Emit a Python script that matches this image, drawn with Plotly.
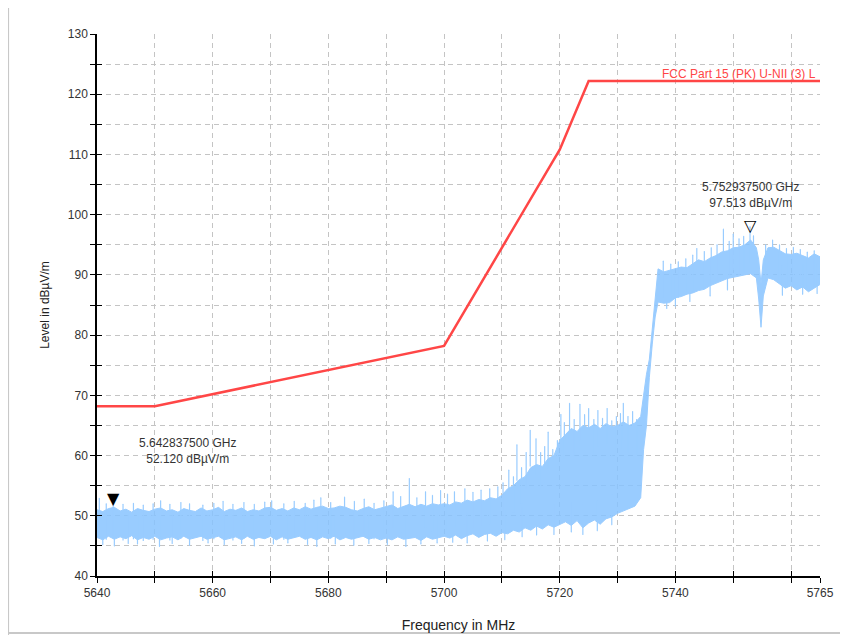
import plotly.graph_objects as go

# --- données lues sur la capture ---
# limite FCC Part 15 (PK) U-NII 3
limit_freq = [5640, 5650, 5700, 5720, 5725, 5765]
limit_level = [68.2, 68.2, 78.2, 110.8, 122.2, 122.2]

# spectre mesuré : enveloppes du coeur dense (MHz, dBµV/m)
spec_freq = [
    5640, 5641, 5642, 5643, 5644, 5645, 5646, 5647, 5648, 5649,
    5650, 5651, 5652, 5653, 5654, 5655, 5656, 5657, 5658, 5659,
    5660, 5661, 5662, 5663, 5664, 5665, 5666, 5667, 5668, 5669,
    5670, 5671, 5672, 5673, 5674, 5675, 5676, 5677, 5678, 5679,
    5680, 5681, 5682, 5683, 5684, 5685, 5686, 5687, 5688, 5689,
    5690, 5691, 5692, 5693, 5694, 5695, 5696, 5697, 5698, 5699,
    5700, 5701, 5702, 5703, 5704, 5705, 5706, 5707, 5708, 5709,
    5710, 5711, 5712, 5713, 5714, 5715, 5716, 5717, 5718, 5719,
    5720, 5721, 5722, 5723, 5724, 5725, 5726, 5727, 5728, 5729,
    5730, 5731, 5732, 5733,
    5734, 5734.5, 5735, 5735.5, 5736, 5736.5, 5737,
    5738, 5739, 5740, 5741, 5742, 5743, 5744, 5745, 5746, 5747,
    5748, 5749, 5750, 5751, 5752, 5753, 5754, 5754.4, 5754.8, 5755.2,
    5756, 5757, 5758, 5759, 5760, 5761, 5762, 5763, 5764, 5765,
]
spec_upper = [
    51.0, 50.7, 51.2, 51.4, 50.8, 51.1, 50.6, 51.2, 50.9, 50.7,
    51.1, 51.3, 50.8, 51.0, 50.6, 51.2, 50.9, 50.7, 51.3, 50.8,
    51.0, 51.4, 50.7, 51.1, 50.9, 51.3, 50.7, 51.0, 50.8, 51.3,
    51.4, 50.9, 51.2, 50.8, 51.3, 51.0, 51.5, 51.1, 51.4, 51.6,
    51.2, 51.3, 51.6, 51.4, 51.0, 50.8, 51.2, 51.5, 51.0, 51.3,
    51.5, 51.8, 51.2, 51.6, 51.9, 51.5, 51.9, 51.6, 52.0, 51.8,
    52.0, 51.8, 52.3, 52.1, 52.6, 52.3, 52.7, 52.5, 53.0, 52.8,
    53.4, 54.5, 55.0, 56.0, 56.5, 58.0, 58.5, 58.2, 59.5, 60.0,
    62.5, 63.5, 64.5, 64.0, 65.0, 64.6, 65.2, 64.5, 65.3, 64.8,
    65.0, 65.6, 65.0, 65.4,
    66.5, 70.0, 73.5, 76.0, 81.0, 87.0, 91.0,
    90.5, 90.8, 91.0, 91.3, 91.2, 91.8, 92.5, 92.2, 92.8, 93.2,
    93.8, 94.0, 94.5, 94.6, 95.0, 95.8, 94.5, 92.5, 88.5, 92.5,
    94.5, 94.6, 94.0, 93.5, 93.4, 93.6, 93.2, 92.8, 93.5, 93.0,
]
spec_lower = [
    46.4, 46.0, 46.6, 46.1, 46.5, 46.2, 46.7, 46.0, 46.4, 46.1,
    46.6, 46.0, 46.3, 46.5, 46.0, 46.6, 46.1, 46.3, 46.6, 46.1,
    46.4, 46.6, 46.0, 46.2, 46.5, 46.0, 46.6, 46.1, 46.4, 46.2,
    46.6, 46.0, 46.5, 46.1, 46.3, 46.6, 46.1, 46.4, 46.0, 46.5,
    46.2, 46.6, 46.0, 46.4, 46.1, 46.3, 46.6, 46.1, 46.4, 46.0,
    46.3, 46.0, 46.5, 46.1, 46.2, 46.4, 45.9, 46.5, 46.1, 46.4,
    46.6, 46.3, 46.8, 46.2, 46.7, 47.0, 46.4, 46.9, 47.1, 46.6,
    47.2, 47.0, 47.6, 47.3, 48.0, 47.6, 48.3, 47.8, 48.5, 48.1,
    48.6, 49.0, 48.4, 49.2, 48.0, 48.8, 49.3, 48.6, 49.5, 49.8,
    50.4, 50.8, 51.2, 51.6,
    53.0, 61.0, 65.0, 73.0, 78.5, 83.0, 85.5,
    85.3, 85.4, 86.2, 86.4, 86.8, 87.0, 87.4, 87.6, 88.2, 88.6,
    89.0, 89.4, 89.6, 89.8, 90.0, 90.2, 89.5, 86.0, 81.3, 86.5,
    89.5, 89.2, 88.5, 87.8, 88.2, 87.5, 88.0, 87.2, 87.8, 88.4,
]

# pointes isolées au-dessus du coeur (fréquence, sommet)
spike_freq = [
    5640.4, 5641.6, 5642.8, 5644.5, 5646.3, 5648.0, 5649.7, 5651.0, 5652.6, 5654.5,
    5656.0, 5658.3, 5660.2, 5661.8, 5663.5, 5665.4, 5667.2, 5669.0, 5670.2, 5672.3,
    5674.1, 5676.0, 5677.5, 5678.7, 5680.4, 5682.8, 5684.5, 5686.2, 5687.9, 5689.6,
    5691.2, 5692.5, 5694.0, 5695.3, 5696.8, 5698.0, 5699.4, 5700.6, 5701.8, 5703.6,
    5705.0, 5706.4, 5707.9, 5709.3, 5710.2, 5711.2, 5712.0, 5712.6, 5713.4, 5714.2,
    5714.9, 5715.9, 5716.7, 5717.4, 5718.0, 5718.8, 5719.6, 5720.2, 5720.8, 5721.7,
    5722.5, 5723.5, 5724.3, 5725.0, 5725.9, 5726.6, 5727.4, 5728.2, 5729.0, 5729.8,
    5730.5, 5731.0, 5731.8, 5732.6, 5733.3,
    5737.9, 5739.2, 5740.5, 5741.8, 5743.0, 5743.7, 5745.0, 5746.2, 5747.2, 5748.3,
    5749.3, 5750.0, 5751.0, 5751.8, 5752.9, 5753.5, 5755.6, 5756.8, 5758.0, 5759.2,
    5760.4, 5761.6, 5762.8, 5764.0,
]
spike_top = [
    52.9, 52.0, 52.6, 51.9, 52.1, 51.8, 52.0, 52.5, 51.9, 52.2,
    52.0, 51.8, 52.1, 52.4, 51.9, 52.2, 51.9, 52.3, 52.5, 52.0,
    52.4, 52.1, 52.6, 53.0, 52.2, 53.1, 52.4, 52.8, 52.1, 52.5,
    54.0, 53.2, 56.2, 53.0, 54.0, 53.4, 54.2, 53.6, 54.0, 54.5,
    53.9, 54.3, 54.5, 54.8, 55.5, 57.6, 56.5, 61.8, 58.0, 60.5,
    64.2, 62.8, 60.5, 61.5, 63.9, 61.0, 62.5, 66.8, 65.5, 68.7,
    66.0, 68.5, 66.8, 67.8, 66.0, 67.5, 66.2, 67.8, 65.8, 66.5,
    67.0, 68.7, 66.5, 67.3, 66.0,
    92.3, 91.8, 92.2, 92.7, 93.3, 94.4, 93.9, 94.5, 95.0, 97.6,
    95.6, 96.8, 96.0, 96.4, 98.0, 96.5, 95.0, 95.8, 95.0, 94.4,
    94.6, 94.2, 93.8, 94.0,
]

# creux isolés sous le coeur (fréquence, fond)
dip_freq = [
    5641.0, 5643.0, 5645.4, 5647.0, 5650.8, 5653.0, 5656.0, 5659.2, 5662.0, 5665.0,
    5667.2, 5670.5, 5673.0, 5676.4, 5678.0, 5681.2, 5684.4, 5687.0, 5690.2, 5693.4,
    5696.0, 5698.8, 5701.5, 5704.0, 5707.5, 5710.5, 5713.5, 5716.0, 5719.0, 5722.0,
    5724.0, 5726.5, 5729.0,
    5738.5, 5740.0, 5742.5, 5746.0, 5749.0, 5758.5, 5762.0, 5764.5,
]
dip_bottom = [
    45.2, 45.0, 45.4, 45.3, 44.9, 45.4, 45.1, 45.5, 45.2, 45.4,
    45.0, 45.3, 45.5, 45.2, 44.9, 45.3, 45.1, 45.4, 45.2, 44.9,
    45.3, 45.5, 45.6, 45.5, 45.8, 46.0, 46.5, 46.8, 46.9, 47.3,
    46.9, 47.5, 48.5,
    84.4, 84.8, 85.6, 86.5, 87.5, 86.6, 86.8, 86.9,
]

# marqueurs
mk_freq = [5642.8375, 5752.9375]
mk_level = [52.120, 97.513]

x_ticks = [5640, 5660, 5680, 5700, 5720, 5740, 5765]
y_ticks = [40, 50, 60, 70, 80, 90, 100, 110, 120, 130]

BLUE = "#99ccff"
BLUE_FILL = "rgba(135, 195, 255, 0.85)"
RED = "#ff4646"
GRID = "#c4c4c4"
TXT = "#333333"
FONT = "Liberation Sans"

fig = go.Figure()

# spectre : bande remplie entre enveloppe basse et haute
fig.add_trace(go.Scatter(
    x=spec_freq, y=spec_lower, mode="lines",
    line=dict(color=BLUE, width=1), hoverinfo="skip"
))
fig.add_trace(go.Scatter(
    x=spec_freq, y=spec_upper, mode="lines", fill="tonexty",
    fillcolor=BLUE_FILL, line=dict(color=BLUE, width=1),
    hoverinfo="skip"
))
# pointes et creux, en traits verticaux fins
fig.add_trace(go.Scatter(
    x=spike_freq, y=spike_top, mode="markers",
    marker=dict(size=1, color=BLUE),
    error_y=dict(type="constant", symmetric=False, value=0, valueminus=6,
                 width=0, thickness=1.2, color=BLUE),
    hoverinfo="skip"
))
fig.add_trace(go.Scatter(
    x=dip_freq, y=dip_bottom, mode="markers",
    marker=dict(size=1, color=BLUE),
    error_y=dict(type="constant", symmetric=False, value=5, valueminus=0,
                 width=0, thickness=1.2, color=BLUE),
    hoverinfo="skip"
))

# limite, sur les axes superposés
fig.add_trace(go.Scatter(
    x=limit_freq, y=limit_level, mode="lines",
    line=dict(color=RED, width=2.5), xaxis="x2", yaxis="y2"
))

axis_common = dict(
    showline=True, linecolor="black", linewidth=1.5,
    tickcolor="black", ticklen=5, tickwidth=1,
    gridcolor=GRID, griddash="5px,4px", gridwidth=1,
    tickfont=dict(family=FONT, size=12, color=TXT),
    zeroline=False, automargin=False,
)
fig.update_layout(
    xaxis=dict(
        range=[5640, 5765], tickvals=x_ticks, ticks="outside",
        showgrid=True,
        minor=dict(dtick=10, tick0=5640, ticks="outside", ticklen=5,
                   tickcolor="black", showgrid=True, gridcolor=GRID,
                   griddash="5px,4px"),
        title=dict(text="Frequency in MHz", standoff=21,
                   font=dict(family=FONT, size=14, color="#222")),
        **axis_common
    ),
    yaxis=dict(
        range=[40, 130], tickvals=y_ticks, ticks="outside",
        showgrid=True,
        minor=dict(dtick=5, tick0=40, ticks="outside", ticklen=5,
                   tickcolor="black", showgrid=True, gridcolor=GRID,
                   griddash="5px,4px"),
        title=dict(text="Level in dBµV/m", standoff=16,
                   font=dict(family=FONT, size=12, color="#222")),
        **axis_common
    ),
    # axes superposés : graduations vers l'intérieur
    xaxis2=dict(
        range=[5640, 5765], overlaying="x", anchor="y2", side="bottom",
        tickvals=x_ticks, ticks="inside", ticklen=5, tickcolor="black",
        showticklabels=False, showgrid=False, zeroline=False,
        minor=dict(dtick=10, tick0=5640, ticks="inside", ticklen=5,
                   tickcolor="black"),
    ),
    yaxis2=dict(
        range=[40, 130], overlaying="y", anchor="x2", side="left",
        tickvals=y_ticks, ticks="inside", ticklen=5, tickcolor="black",
        showticklabels=False, showgrid=False, zeroline=False,
        minor=dict(dtick=5, tick0=40, ticks="inside", ticklen=5,
                   tickcolor="black"),
    ),
    width=840, height=627,
    margin=dict(l=89, r=28, t=26, b=59),
    plot_bgcolor="white", paper_bgcolor="white",
    showlegend=False,
)

# étiquette de la limite
fig.add_annotation(
    x=limit_freq[-1], y=limit_level[-1], text="FCC Part 15 (PK) U-NII (3) L",
    showarrow=False, xanchor="right", yanchor="bottom", xshift=-2, yshift=-2,
    font=dict(family=FONT, size=12, color=RED)
)

# marqueurs et leurs étiquettes
mk_symbols = ["▼", "▽"]
mk_xshift = [74, 0]
mk_yshift = [35, 18]
for f, lv, sym, xs, ys in zip(mk_freq, mk_level, mk_symbols, mk_xshift, mk_yshift):
    fig.add_annotation(
        x=f, y=lv, text=sym, showarrow=False, yanchor="bottom", yshift=-7,
        font=dict(family="DejaVu Sans", size=16, color="black")
    )
    fig.add_annotation(
        x=f, y=lv, text=f"{f / 1000:.9f} GHz<br>{lv:.3f} dBµV/m",
        showarrow=False, xanchor="center", yanchor="bottom",
        xshift=xs, yshift=ys, align="center",
        font=dict(family=FONT, size=12, color=TXT)
    )

# cadre gris de la fenêtre
fig.add_shape(type="line", xref="paper", yref="paper",
              x0=-0.123, x1=-0.123, y0=-0.11, y1=1.07,
              line=dict(color="#c8c8c8", width=2))
fig.add_shape(type="line", xref="paper", yref="paper",
              x0=-0.123, x1=1.04, y0=-0.105, y1=-0.105,
              line=dict(color="#c8c8c8", width=2))

fig.write_html("out.html")
